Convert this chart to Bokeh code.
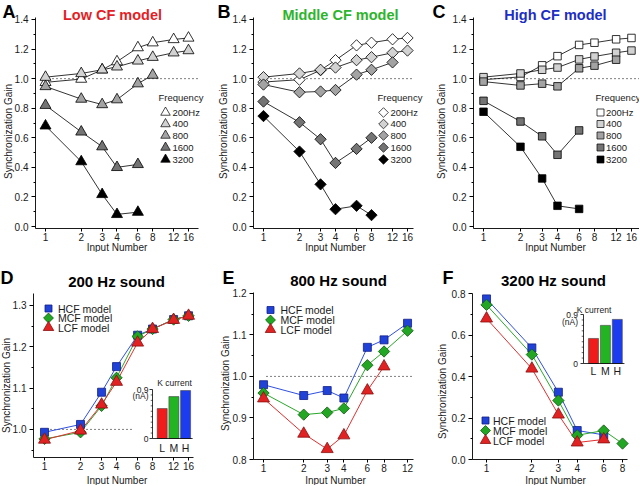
import math
from bokeh.plotting import figure
from bokeh.models import Range1d, LinearScale, FixedTicker, PrintfTickFormatter, Label
from bokeh.layouts import row, column
from bokeh.embed import file_html
from bokeh.resources import INLINE
from bokeh.core.properties import value

FONT = "Liberation Sans"

# ---------------- data ----------------
input_numbers = [1, 2, 3, 4, 6, 8, 12, 16]
freq_labels = ["200Hz", "400", "800", "1600", "3200"]
model_labels = ["HCF model", "MCF model", "LCF model"]

# Low CF model (A)
lcf_200 = [0.975, 0.997, 1.06, 1.115, 1.21, 1.243, 1.265, 1.275]
lcf_400 = [1.01, 1.035, 1.06, 1.08, 1.12, 1.145, 1.175, 1.19]
lcf_800 = [0.947, 0.862, 0.825, 0.858, 0.966, 1.024]
lcf_1600 = [0.82, 0.64, 0.54, 0.40, 0.42]
lcf_3200 = [0.681, 0.439, 0.217, 0.082, 0.097]

# Middle CF model (B)
mcf_200 = [0.977, 0.993, 1.057, 1.125, 1.225, 1.243, 1.266, 1.275]
mcf_400 = [1.01, 1.035, 1.06, 1.075, 1.125, 1.145, 1.175, 1.19]
mcf_800 = [0.96, 0.908, 0.913, 0.923, 1.027, 1.06, 1.11]
mcf_1600 = [0.845, 0.705, 0.59, 0.43, 0.525, 0.60]
mcf_3200 = [0.747, 0.507, 0.285, 0.117, 0.14, 0.077]

# High CF model (C)
hcf_200 = [0.993, 1.012, 1.09, 1.152, 1.228, 1.243, 1.266, 1.275]
hcf_400 = [1.01, 1.035, 1.06, 1.075, 1.13, 1.15, 1.175, 1.19]
hcf_800 = [0.98, 0.954, 0.966, 0.948, 1.07, 1.088, 1.128]
hcf_1600 = [0.85, 0.71, 0.61, 0.485, 0.65]
hcf_3200 = [0.776, 0.539, 0.325, 0.14, 0.119]

# K current insets
k_labels = ["L", "M", "H"]
k_current_d = [0.55, 0.77, 0.88]
k_current_f = [0.46, 0.70, 0.81]
inset_ticks = [0.0, 0.9]
inset_tick_labels = ["0", "0.9"]
inset_minor = [0.1, 0.2, 0.3, 0.4, 0.5, 0.6, 0.7, 0.8]

ref_level = 1.0

y_ticks_top = [0.0, 0.2, 0.4, 0.6, 0.8, 1.0, 1.2, 1.4]
y_minor_top = [0.1, 0.3, 0.5, 0.7, 0.9, 1.1, 1.3]
y_ticks_d = [1.0, 1.1, 1.2, 1.3]
y_minor_d = [0.95, 1.05, 1.15, 1.25]
y_ticks_e = [0.8, 0.9, 1.0, 1.1, 1.2]
y_minor_e = [0.85, 0.95, 1.05, 1.15]
y_ticks_f = [0.0, 0.2, 0.4, 0.6, 0.8]
y_minor_f = [0.1, 0.3, 0.5, 0.7]

# ---------------- styles ----------------
gray_fills = ["white", "#d2d2d2", "#a3a3a3", "#747474", "black"]
model_fill = {"H": "#2142d6", "M": "#23a623", "L": "#e02222"}
model_edge = {"H": "#10208a", "M": "#0e5a0e", "L": "#8a1010"}
model_line = {"H": "#3050e0", "M": "#2aa82a", "L": "#e03030"}
title_colors = ["#e41e26", "#2db42d", "#1c2ec4"]
k_colors = ["#f01c1c", "#22b422", "#1c3cf0"]
TXT = "#1a1a1a"


class Panel:
    """Page-pixel <-> data mapping for one panel.
    canvas = (X0, Y0, W, H) of the figure on the page; axes = (L, T, R, B) of the
    axis box on the page, whose data extents are xr (log) and yr (linear)."""
    def __init__(self, canvas, axes, xr, yr):
        self.X0, self.Y0, self.W, self.H = canvas
        self.L, self.T, self.R, self.B = axes
        self.xr, self.yr = xr, yr

    def xd(self, px):
        lo, hi = self.xr
        return lo * (hi / lo) ** ((px - self.L) / (self.R - self.L))

    def yd(self, py):
        lo, hi = self.yr
        return lo + (self.B - py) / (self.B - self.T) * (hi - lo)


def make_fig(pn, xticks, yticks, yminor):
    xr = (pn.xd(pn.X0), pn.xd(pn.X0 + pn.W))
    yr = (pn.yd(pn.Y0 + pn.H), pn.yd(pn.Y0))
    p = figure(width=pn.W, height=pn.H, x_axis_type="log",
               x_range=Range1d(*xr), y_range=Range1d(*yr),
               output_backend="svg", toolbar_location=None,
               min_border_left=0, min_border_right=0,
               min_border_top=0, min_border_bottom=0)
    p.outline_line_color = None
    p.xgrid.visible = False
    p.ygrid.visible = False
    p.xaxis.ticker = FixedTicker(ticks=xticks, minor_ticks=[])
    p.xaxis.formatter = PrintfTickFormatter(format="%d")
    p.yaxis.ticker = FixedTicker(ticks=yticks, minor_ticks=yminor)
    p.yaxis.formatter = PrintfTickFormatter(format="%.1f")
    p.xaxis.fixed_location = pn.yd(pn.B)
    p.yaxis.fixed_location = pn.xd(pn.L)
    p.xaxis.bounds = (pn.xr[0], pn.xr[1])
    p.yaxis.bounds = (pn.yr[0], pn.yr[1])
    for ax in (p.xaxis[0], p.yaxis[0]):
        ax.axis_line_color = "black"
        ax.axis_line_width = 0.9
        ax.major_tick_line_color = "black"
        ax.minor_tick_line_color = "black"
        ax.major_tick_in = 0
        ax.minor_tick_in = 0
        ax.major_label_text_font = FONT
        ax.major_label_text_font_size = "10px"
        ax.major_label_text_color = TXT
    p.xaxis.major_tick_out = 3
    p.xaxis.minor_tick_out = 0
    p.xaxis.major_label_standoff = 1
    p.yaxis.major_tick_out = 4
    p.yaxis.minor_tick_out = 2
    p.yaxis.major_label_standoff = 3
    return p


def put(p, pn, px, py, text, size, color=TXT, bold=False, align="center", angle=0.0):
    # screen units: offset from the figure's bottom-left corner (frame == canvas)
    p.add_layout(Label(x=px - pn.X0, y=pn.Y0 + pn.H - py, x_units="screen", y_units="screen",
                       text=text, text_font=FONT, text_font_size=size,
                       text_font_style="bold" if bold else "normal",
                       text_color=color, text_align=align, text_baseline="middle",
                       angle=angle))


def add_inset(p, pn, ins, kvals):
    b0, pitch, zero_y, y09 = ins["bar0"], ins["pitch"], ins["zero"], ins["y09"]
    ppu = (zero_y - y09) / inset_ticks[-1]
    iu = lambda px: (px - b0) / pitch
    iv = lambda py: (zero_y - py) / ppu
    p.extra_x_ranges = {"ix": Range1d(iu(pn.X0), iu(pn.X0 + pn.W))}
    p.extra_y_ranges = {"iy": Range1d(iv(pn.Y0 + pn.H), iv(pn.Y0))}
    p.extra_x_scales = {"ix": LinearScale()}
    p.extra_y_scales = {"iy": LinearScale()}
    kw = dict(x_range_name="ix", y_range_name="iy")
    pos = list(range(len(k_labels)))
    ax = iu(ins["axis_x"])
    p.vbar(x=pos, top=kvals, bottom=0, width=10 / pitch, fill_color=k_colors,
           line_color="#444444", line_width=0.6, **kw)
    p.segment(x0=[ax], y0=[inset_ticks[0]], x1=[ax], y1=[inset_ticks[-1]],
              line_color="black", line_width=0.8, **kw)
    p.segment(x0=[ax], y0=[0], x1=[pos[-1] + 0.6], y1=[0],
              line_color="black", line_width=0.8, **kw)
    p.segment(x0=[ax] * len(inset_ticks), y0=inset_ticks,
              x1=[ax - 3 / pitch] * len(inset_ticks), y1=inset_ticks,
              line_color="black", line_width=0.8, **kw)
    p.segment(x0=[ax] * len(inset_minor), y0=inset_minor,
              x1=[ax - 1.8 / pitch] * len(inset_minor), y1=inset_minor,
              line_color="black", line_width=0.6, **kw)
    tk = dict(text_font=value(FONT), text_font_size="8.5px", text_color=TXT,
              text_baseline="middle")
    lx = iu(ins["lab_right"])
    p.text(x=[lx] * len(inset_ticks), y=inset_ticks, text=inset_tick_labels,
           text_align="right", **tk, **kw)
    p.text(x=[lx], y=[iv(ins["na_y"])], text=["(nA)"], text_align="right", **tk, **kw)
    p.text(x=[iu(ins["kc"][0])], y=[iv(ins["kc"][1])], text=["K current"],
           text_align="center", **tk, **kw)
    p.text(x=pos, y=[iv(ins["lmh_y"])] * len(pos), text=k_labels, text_align="center",
           text_font=value(FONT), text_font_size="10.5px", text_color=TXT,
           text_baseline="middle", **kw)


# ---------------- top row ----------------
top_cfg = [
    dict(letter="A", title="Low CF model", canvas=(0, 0, 215, 252),
         xr=(0.8237, 19.43), axes=(35, 17, 198, 228),
         series=[lcf_200, lcf_400, lcf_800, lcf_1600, lcf_3200],
         marker="triangle", size=11, angle=0.0, lsize=9.5,
         letter_xy=(8.5, 11), title_xy=(112, 14), xlab_x=116.5, ylab_xy=(8, 131),
         leg_title=(158, 97), leg_gx=165, leg_tx=172),
    dict(letter="B", title="Middle CF model", canvas=(215, 0, 210, 252),
         xr=(0.8249, 17.96), axes=(253, 17, 413, 228),
         series=[mcf_200, mcf_400, mcf_800, mcf_1600, mcf_3200],
         marker="square", size=8, angle=math.pi / 4, lsize=6.8,
         letter_xy=(223.5, 11), title_xy=(340, 14), xlab_x=335, ylab_xy=(223, 131),
         leg_title=(377, 97), leg_gx=383, leg_tx=390),
    dict(letter="C", title="High CF model", canvas=(425, 0, 214, 252),
         xr=(0.829, 18.6), axes=(473, 17, 639, 228),
         series=[hcf_200, hcf_400, hcf_800, hcf_1600, hcf_3200],
         marker="square", size=7.5, angle=0.0, lsize=7,
         letter_xy=(438.5, 11), title_xy=(555, 14), xlab_x=555, ylab_xy=(441, 131),
         leg_title=(595, 97), leg_gx=600, leg_tx=605.5),
]
top_yr = (-0.0135, 1.4135)
top_leg_rows = [112, 123.5, 135, 147, 159]

top_figs = []
for i, c in enumerate(top_cfg):
    pn = Panel(c["canvas"], c["axes"], c["xr"], top_yr)
    p = make_fig(pn, input_numbers, y_ticks_top, y_minor_top)
    p.segment(x0=[pn.xd(pn.L + 9)], y0=[ref_level], x1=[pn.xd(pn.R)], y1=[ref_level],
              line_color="black", line_width=1, line_dash="1 3")
    for s, fill in zip(c["series"], gray_fills):
        xs = input_numbers[:len(s)]
        p.line(xs, s, line_color="black", line_width=0.8)
        p.scatter(xs, s, marker=c["marker"], size=c["size"], angle=c["angle"],
                  fill_color=fill, line_color="black", line_width=0.8)
    # legend
    put(p, pn, c["leg_title"][0], c["leg_title"][1], "Frequency", "9.5px", align="left")
    p.scatter([pn.xd(c["leg_gx"])] * len(freq_labels), [pn.yd(y) for y in top_leg_rows],
              marker=c["marker"], size=c["lsize"], angle=c["angle"],
              fill_color=gray_fills, line_color="black", line_width=0.7)
    for lab, y in zip(freq_labels, top_leg_rows):
        put(p, pn, c["leg_tx"], y, lab, "9.5px", align="left")
    put(p, pn, c["letter_xy"][0], c["letter_xy"][1], c["letter"], "18px", color="black", bold=True)
    put(p, pn, c["title_xy"][0], c["title_xy"][1], c["title"], "14.5px",
        color=title_colors[i], bold=True)
    put(p, pn, c["xlab_x"], 247, "Input Number", "10px")
    put(p, pn, c["ylab_xy"][0], c["ylab_xy"][1], "Synchronization Gain", "10px",
        angle=math.pi / 2)
    top_figs.append(p)

# ---------------- bottom row ----------------
bot_cfg = [
    dict(letter="D", title="200 Hz sound", canvas=(0, 252, 215, 233),
         xr=(0.809, 17.6), yr=(0.932, 1.329), yt=y_ticks_d, ym=y_minor_d,
         xt=input_numbers, axes=(33, 293, 193, 457),
         series={"H": hcf_200, "M": mcf_200, "L": lcf_200},
         letter_xy=(6.5, 277.5), title_xy=(116, 281), xlab_x=116.5, ylab_xy=(6, 385),
         leg_gx=48, leg_tx=57.5, leg_rows=[308, 317.5, 327], dot_end=133),
    dict(letter="E", title="800 Hz sound", canvas=(215, 252, 210, 233),
         xr=(0.841, 13.3), yr=(0.8, 1.202), yt=y_ticks_e, ym=y_minor_e,
         xt=input_numbers[:7], axes=(253, 292, 413, 459),
         series={"H": hcf_800, "M": mcf_800, "L": lcf_800},
         letter_xy=(228, 277.5), title_xy=(338, 280), xlab_x=335, ylab_xy=(225, 383),
         leg_gx=270, leg_tx=280, leg_rows=[309.5, 319.5, 329], dot_end=413),
    dict(letter="F", title="3200 Hz sound", canvas=(425, 252, 214, 233),
         xr=(0.807, 8.63), yr=(0.0, 0.802), yt=y_ticks_f, ym=y_minor_f,
         xt=input_numbers[:6], axes=(472, 293, 627, 459),
         series={"H": hcf_3200, "M": mcf_3200, "L": lcf_3200},
         letter_xy=(447.5, 277.5), title_xy=(553, 280), xlab_x=555, ylab_xy=(442, 391),
         leg_gx=485, leg_tx=492.5, leg_rows=[420, 430, 440], dot_end=None),
]

mk = {"H": ("square", 8, 0.0), "M": ("square", 8, math.pi / 4), "L": ("triangle", 12, 0.0)}
mk_leg = {"H": 7, "M": 7, "L": 10.5}
order = ["H", "M", "L"]

bot_figs = []
for c in bot_cfg:
    pn = Panel(c["canvas"], c["axes"], c["xr"], c["yr"])
    p = make_fig(pn, c["xt"], c["yt"], c["ym"])
    if c["dot_end"]:
        p.segment(x0=[pn.xd(pn.L + 13)], y0=[ref_level], x1=[pn.xd(c["dot_end"])],
                  y1=[ref_level], line_color="black", line_width=1, line_dash="1 3")
    for k in order:
        s = c["series"][k]
        p.line(input_numbers[:len(s)], s, line_color=model_line[k], line_width=1)
    for k in order:
        s = c["series"][k]
        m, sz, ang = mk[k]
        p.scatter(input_numbers[:len(s)], s, marker=m, size=sz, angle=ang,
                  fill_color=model_fill[k], line_color=model_edge[k], line_width=0.8)
    # legend
    for k, lab, y in zip(order, model_labels, c["leg_rows"]):
        m, sz, ang = mk[k]
        p.scatter([pn.xd(c["leg_gx"])], [pn.yd(y)], marker=m, size=mk_leg[k], angle=ang,
                  fill_color=model_fill[k], line_color=model_edge[k], line_width=0.8)
        put(p, pn, c["leg_tx"], y, lab, "10.5px", align="left")
    put(p, pn, c["letter_xy"][0], c["letter_xy"][1], c["letter"], "18px", color="black", bold=True)
    put(p, pn, c["title_xy"][0], c["title_xy"][1], c["title"], "15px", color="black", bold=True)
    put(p, pn, c["xlab_x"], 480, "Input Number", "10px")
    put(p, pn, c["ylab_xy"][0], c["ylab_xy"][1], "Synchronization Gain", "10px",
        angle=math.pi / 2)
    bot_figs.append((p, pn))

inset_d = dict(bar0=161.7, pitch=11.7, zero=438, y09=389, axis_x=152, lab_right=148,
               na_y=395, kc=(174, 382), lmh_y=447)
inset_f = dict(bar0=593, pitch=11.9, zero=363, y09=314, axis_x=583, lab_right=577.5,
               na_y=321, kc=(593.5, 309), lmh_y=370)
add_inset(bot_figs[0][0], bot_figs[0][1], inset_d, k_current_d)
add_inset(bot_figs[2][0], bot_figs[2][1], inset_f, k_current_f)

layout = column(row(*top_figs), row(*[f for f, _ in bot_figs]))
open("out.html", "w").write(file_html(layout, INLINE))
